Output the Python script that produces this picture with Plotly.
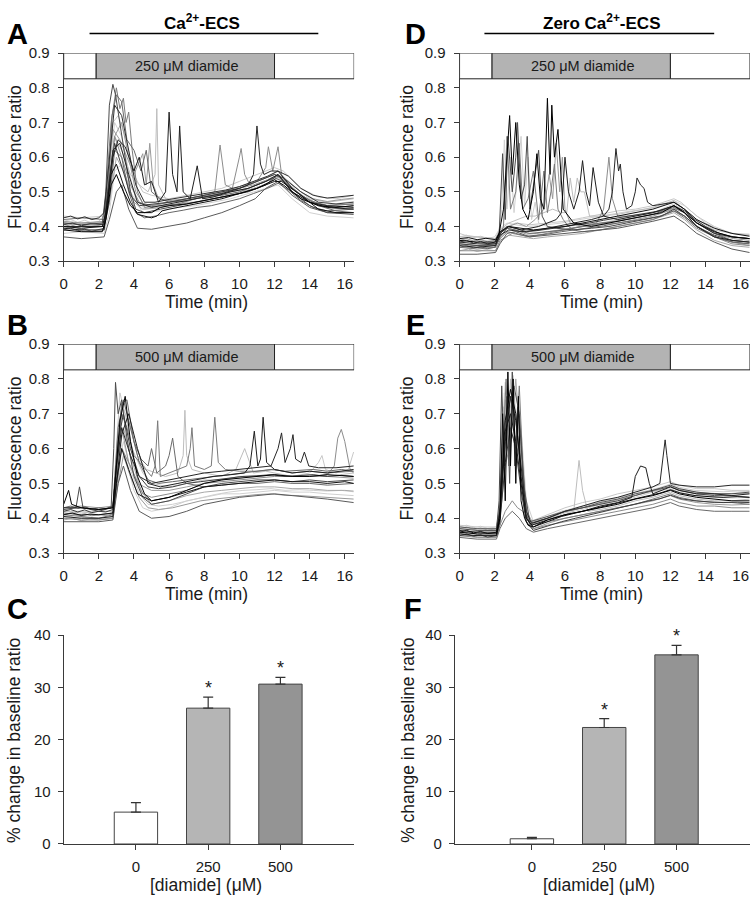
import plotly.graph_objects as go

W, H = 750, 904
FONT = "Liberation Sans, Arial, sans-serif"

# ---------------- Data: traces (time in min, fluorescence ratio) ----------------
# Panel A: Ca2+-ECS, 250 uM diamide
A_grid = [0, 0.4, 0.8, 1.2, 1.6, 2.0, 2.3, 2.6, 2.9, 3.3, 3.7, 4.1, 4.6, 5.2, 6.0, 6.8, 7.6, 8.4, 9.2, 10.0, 10.8, 11.6, 12.2, 12.8, 13.5, 14.2, 15.0, 15.8, 16.5]
A_t = [
    [0, 1, 2.2, 2.4, 2.7, 3.0, 3.4, 3.8, 4.2, 5.0, 5.5, 6.0, 7.0, 8.0, 9.0, 10.0, 11.0, 12.0, 12.5, 13.5, 14.5, 15.5, 16.5],
    [0, 1, 2.2, 2.4, 2.6, 2.8, 2.95, 3.2, 3.5, 3.8, 4.1, 4.6, 5.5, 6.5, 7.5, 8.5, 9.5, 10.5, 11.5, 12.2, 13, 14, 15, 16.5],
    [0, 1, 2.3, 2.5, 2.7, 3.0, 3.2, 3.4, 3.55, 3.7, 3.9, 4.2, 4.6, 5.5, 6.5, 7.5, 8.5, 9.5, 10.5, 11.5, 12.2, 13, 14, 15, 16.5],
    [0, 1, 2.3, 2.5, 2.9, 3.3, 3.8, 4.3, 4.8, 5.2, 5.3, 5.4, 5.8, 6.5, 7.5, 8.5, 9.5, 10.5, 11.5, 12.2, 13, 14, 15, 16.5],
    [0, 1, 2.3, 2.5, 2.8, 3.1, 3.5, 4.0, 4.3, 4.6, 5.0, 5.4, 5.8, 6.0, 6.2, 6.45, 6.6, 6.8, 7.2, 7.6, 7.9, 8.5, 9.5, 10.5, 11.5, 12.2, 13, 14, 15, 16.5],
    [0, 1, 2.3, 2.5, 2.8, 3.2, 3.7, 4.2, 5, 6, 7, 8, 9, 10, 10.5, 10.8, 11.0, 11.2, 11.4, 11.8, 12.2, 13, 14, 15, 16.5],
    [0, 1, 2.3, 2.5, 2.9, 3.3, 3.8, 4.3, 5, 6, 7, 8, 8.6, 8.9, 9.2, 9.6, 10.0, 10.1, 10.3, 10.6, 11.0, 11.5, 11.65, 11.9, 12.2, 12.4, 13, 14, 15, 16.5],
    [0, 1, 2.3, 2.6, 3.0, 3.3, 3.7, 4.2, 5.0, 6.0, 7.0, 8.0, 9.0, 10.0, 10.9, 11.5, 12.2, 13, 14, 15, 16.5],
    [0, 1, 2.3, 2.5, 2.8, 3.1, 3.5, 4.0, 4.5, 5, 6, 7, 8, 9, 10, 11, 12, 12.5, 13.5, 14.5, 15.5, 16.5],
    [0, 1, 2.3, 2.5, 2.75, 3.0, 3.3, 3.6, 4.0, 4.4, 4.7, 5.0, 5.5, 6, 7, 8, 9, 10, 11, 12, 12.5, 13.5, 14.5, 15.5, 16.5],
    [0, 1, 2.3, 2.6, 2.9, 3.3, 3.8, 4.5, 5.5, 6.5, 7.5, 8.5, 9.5, 10.5, 11.5, 12.2, 13, 14, 15, 16.5],
    [0, 1, 2.3, 2.5, 2.8, 3.2, 3.6, 4.0, 4.5, 4.7, 4.9, 5.1, 5.4, 6, 7, 8, 9, 10, 11, 12, 12.6, 13.5, 14.5, 15.5, 16.5],
    [0, 1, 2.2, 2.4, 2.7, 3.0, 3.4, 3.8, 4.2, 4.6, 5.0, 5.3, 5.6, 6, 7, 8, 9, 10, 11, 12, 12.4, 13.5, 14.5, 15.5, 16.5],
    [0, 0.5, 1, 1.5, 2.3, 2.6, 3.0, 3.5, 4.0, 4.5, 5.5, 6.5, 7.5, 8.5, 9.5, 10.5, 11.5, 12.3, 13, 14, 15, 16, 16.5],
    [0, 0.5, 1, 1.5, 2.3, 2.5, 2.9, 3.3, 3.8, 4.3, 5, 6, 7, 8, 9, 10, 11, 12, 12.5, 13.5, 14.5, 15.5, 16.5],
    A_grid, A_grid, A_grid, A_grid,
]
A_v = [
    [0.39, 0.385, 0.385, 0.42, 0.52, 0.55, 0.50, 0.46, 0.44, 0.44, 0.455, 0.46, 0.465, 0.475, 0.485, 0.495, 0.51, 0.535, 0.52, 0.48, 0.46, 0.455, 0.46],
    [0.41, 0.405, 0.41, 0.50, 0.75, 0.81, 0.78, 0.70, 0.60, 0.50, 0.45, 0.44, 0.45, 0.46, 0.47, 0.48, 0.49, 0.50, 0.52, 0.55, 0.50, 0.46, 0.44, 0.435],
    [0.42, 0.425, 0.42, 0.55, 0.70, 0.80, 0.74, 0.77, 0.70, 0.73, 0.62, 0.50, 0.455, 0.46, 0.465, 0.48, 0.49, 0.50, 0.51, 0.53, 0.545, 0.51, 0.475, 0.46, 0.465],
    [0.40, 0.40, 0.405, 0.50, 0.66, 0.62, 0.55, 0.52, 0.50, 0.55, 0.74, 0.52, 0.48, 0.47, 0.48, 0.49, 0.50, 0.52, 0.54, 0.56, 0.52, 0.48, 0.47, 0.48],
    [0.395, 0.39, 0.39, 0.46, 0.60, 0.65, 0.63, 0.56, 0.60, 0.52, 0.53, 0.47, 0.50, 0.73, 0.55, 0.50, 0.69, 0.50, 0.48, 0.575, 0.48, 0.485, 0.50, 0.51, 0.53, 0.55, 0.50, 0.47, 0.455, 0.45],
    [0.40, 0.40, 0.40, 0.48, 0.62, 0.64, 0.55, 0.47, 0.455, 0.465, 0.475, 0.485, 0.495, 0.51, 0.52, 0.55, 0.69, 0.58, 0.55, 0.56, 0.56, 0.51, 0.47, 0.46, 0.455],
    [0.41, 0.41, 0.41, 0.50, 0.66, 0.60, 0.52, 0.47, 0.46, 0.47, 0.48, 0.49, 0.50, 0.635, 0.52, 0.51, 0.60, 0.625, 0.55, 0.52, 0.53, 0.57, 0.63, 0.56, 0.63, 0.55, 0.50, 0.47, 0.46, 0.465],
    [0.37, 0.365, 0.37, 0.42, 0.50, 0.52, 0.45, 0.395, 0.392, 0.40, 0.41, 0.425, 0.44, 0.46, 0.48, 0.51, 0.53, 0.49, 0.455, 0.44, 0.44],
    [0.43, 0.425, 0.43, 0.52, 0.70, 0.72, 0.66, 0.55, 0.50, 0.49, 0.48, 0.49, 0.50, 0.51, 0.53, 0.55, 0.57, 0.56, 0.51, 0.485, 0.48, 0.49],
    [0.40, 0.40, 0.40, 0.47, 0.72, 0.78, 0.76, 0.65, 0.62, 0.56, 0.62, 0.50, 0.48, 0.47, 0.475, 0.485, 0.49, 0.50, 0.52, 0.54, 0.53, 0.49, 0.46, 0.445, 0.44],
    [0.38, 0.385, 0.38, 0.44, 0.56, 0.58, 0.50, 0.44, 0.445, 0.455, 0.46, 0.47, 0.48, 0.495, 0.51, 0.52, 0.48, 0.44, 0.43, 0.425],
    [0.415, 0.41, 0.415, 0.52, 0.68, 0.65, 0.60, 0.55, 0.61, 0.52, 0.64, 0.52, 0.48, 0.475, 0.48, 0.49, 0.50, 0.515, 0.53, 0.55, 0.53, 0.49, 0.465, 0.455, 0.46],
    [0.40, 0.395, 0.40, 0.44, 0.55, 0.58, 0.52, 0.47, 0.435, 0.43, 0.425, 0.43, 0.445, 0.45, 0.46, 0.47, 0.48, 0.495, 0.51, 0.53, 0.53, 0.49, 0.45, 0.44, 0.44],
    [0.395, 0.40, 0.392, 0.398, 0.40, 0.47, 0.60, 0.55, 0.47, 0.45, 0.455, 0.465, 0.47, 0.48, 0.49, 0.505, 0.52, 0.545, 0.515, 0.47, 0.455, 0.45, 0.452],
    [0.405, 0.41, 0.402, 0.408, 0.405, 0.50, 0.64, 0.57, 0.49, 0.46, 0.465, 0.47, 0.48, 0.49, 0.50, 0.51, 0.53, 0.55, 0.54, 0.50, 0.47, 0.465, 0.47],
    [0.415, 0.42, 0.412, 0.418, 0.41, 0.415, 0.43, 0.56, 0.70, 0.66, 0.56, 0.48, 0.45, 0.452, 0.46, 0.468, 0.472, 0.48, 0.488, 0.50, 0.51, 0.525, 0.54, 0.52, 0.49, 0.47, 0.462, 0.468, 0.472],
    [0.39, 0.395, 0.388, 0.392, 0.386, 0.39, 0.395, 0.47, 0.62, 0.60, 0.50, 0.44, 0.425, 0.43, 0.44, 0.447, 0.455, 0.46, 0.47, 0.48, 0.495, 0.51, 0.525, 0.505, 0.475, 0.455, 0.445, 0.448, 0.45],
    [0.40, 0.405, 0.398, 0.402, 0.40, 0.403, 0.41, 0.50, 0.66, 0.70, 0.60, 0.50, 0.46, 0.462, 0.47, 0.478, 0.485, 0.49, 0.50, 0.51, 0.52, 0.535, 0.55, 0.53, 0.50, 0.48, 0.472, 0.478, 0.482],
    [0.425, 0.43, 0.422, 0.428, 0.42, 0.425, 0.44, 0.60, 0.75, 0.72, 0.62, 0.52, 0.47, 0.47, 0.478, 0.485, 0.49, 0.497, 0.505, 0.515, 0.53, 0.545, 0.56, 0.545, 0.51, 0.49, 0.482, 0.486, 0.49],
]

# Panel B: Ca2+-ECS, 500 uM diamide
B_grid = [0, 0.4, 0.8, 1.2, 1.6, 2.0, 2.4, 2.8, 3.1, 3.4, 3.8, 4.3, 4.8, 5.4, 6.2, 7.0, 7.8, 8.6, 9.4, 10.2, 11.0, 11.8, 12.6, 13.4, 14.2, 15.0, 15.8, 16.5]
B_t = [
    [0, 0.15, 0.28, 0.45, 1, 2, 2.8, 3.0, 3.2, 3.5, 3.8, 4.2, 4.6, 5, 6, 7, 8, 9, 10, 11, 12, 13, 14, 15, 16.5],
    [0, 0.7, 0.9, 1.1, 2, 2.7, 2.85, 2.95, 3.1, 3.3, 3.6, 4.0, 4.5, 5, 6, 7, 8, 9, 10, 11, 12, 13, 14, 15, 16.5],
    [0, 1, 2, 2.8, 3.0, 3.3, 3.6, 4.0, 4.5, 5.0, 5.2, 5.35, 5.5, 6, 6.5, 7.0, 7.2, 7.3, 7.45, 8, 8.4, 8.6, 8.8, 9.2, 10, 11, 12, 13, 14, 15, 16.5],
    [0, 1, 2, 2.8, 3.0, 3.3, 3.7, 4.2, 4.7, 5.2, 5.8, 6.5, 6.8, 6.9, 7.0, 7.3, 8, 9, 9.8, 10.3, 10.8, 11.5, 12, 13, 14, 15, 16.5],
    [0, 1, 2, 2.8, 3.0, 3.3, 3.7, 4.2, 4.8, 5.5, 6.5, 7.5, 8.5, 9.5, 10.3, 10.6, 10.85, 11.05, 11.2, 11.35, 11.55, 12, 13, 14, 15, 16.5],
    [0, 1, 2, 2.8, 3.0, 3.3, 3.8, 4.3, 5, 6, 7, 8, 9, 10, 11, 11.8, 12.2, 12.4, 12.6, 12.9, 13.05, 13.2, 13.5, 13.7, 13.95, 14.5, 15.5, 16.5],
    [0, 1, 2, 2.8, 3.0, 3.3, 3.8, 4.5, 5, 6, 7, 8, 9, 10, 11, 12, 13, 14, 15, 15.4, 15.6, 15.8, 16.0, 16.3, 16.5],
    [0, 1, 2, 2.8, 3.1, 3.4, 3.8, 4.3, 5, 6, 7, 8, 9, 10, 11, 12, 13, 14, 15, 16.5],
    [0, 1, 2, 2.8, 3.0, 3.2, 3.5, 3.9, 4.5, 5, 6, 7, 8, 9, 10, 11, 12, 13, 14, 14.5, 14.7, 14.9, 15.5, 16.2, 16.5],
    [0, 1, 2, 2.8, 3.0, 3.3, 3.6, 4.0, 4.4, 4.8, 5.0, 5.3, 5.8, 6.0, 6.2, 6.5, 7, 8, 9, 10, 11, 12, 13, 14, 15, 16.5],
    [0, 1, 2, 2.8, 3.0, 3.2, 3.5, 4.0, 4.5, 5, 6, 7, 8, 9, 10, 11, 12, 13, 14, 15, 16.5],
    [0, 1, 2, 2.8, 3.0, 3.3, 3.7, 4.2, 5, 6, 7, 8, 9, 10, 11, 12, 13, 14, 15, 16.5],
    [0, 0.5, 1, 1.5, 2, 2.8, 3.0, 3.3, 3.7, 4.2, 5, 6, 7, 8, 9, 10, 11, 12, 13, 14, 15, 16, 16.5],
    [0, 0.5, 1, 1.5, 2, 2.8, 3.05, 3.4, 3.8, 4.4, 5, 6, 7, 8, 9, 10, 11, 12, 13, 14, 15, 16, 16.5],
    B_grid, B_grid, B_grid, B_grid,
]
B_v = [
    [0.44, 0.46, 0.48, 0.44, 0.43, 0.425, 0.43, 0.55, 0.68, 0.75, 0.62, 0.52, 0.47, 0.45, 0.46, 0.48, 0.50, 0.51, 0.515, 0.52, 0.525, 0.52, 0.52, 0.525, 0.52],
    [0.425, 0.43, 0.49, 0.43, 0.42, 0.43, 0.60, 0.79, 0.70, 0.74, 0.63, 0.52, 0.46, 0.44, 0.45, 0.47, 0.49, 0.50, 0.505, 0.51, 0.51, 0.505, 0.51, 0.505, 0.51],
    [0.41, 0.405, 0.40, 0.41, 0.52, 0.70, 0.66, 0.58, 0.55, 0.52, 0.55, 0.68, 0.52, 0.53, 0.54, 0.55, 0.60, 0.66, 0.55, 0.54, 0.55, 0.69, 0.56, 0.54, 0.535, 0.535, 0.54, 0.53, 0.535, 0.53, 0.535],
    [0.42, 0.415, 0.42, 0.42, 0.55, 0.72, 0.68, 0.58, 0.54, 0.53, 0.52, 0.53, 0.58, 0.71, 0.58, 0.54, 0.53, 0.52, 0.54, 0.60, 0.53, 0.535, 0.53, 0.52, 0.525, 0.52, 0.53],
    [0.405, 0.40, 0.40, 0.405, 0.50, 0.64, 0.70, 0.60, 0.50, 0.49, 0.50, 0.51, 0.52, 0.525, 0.53, 0.55, 0.65, 0.55, 0.57, 0.69, 0.56, 0.54, 0.53, 0.535, 0.53, 0.54],
    [0.43, 0.43, 0.425, 0.43, 0.55, 0.66, 0.58, 0.52, 0.50, 0.51, 0.52, 0.53, 0.535, 0.54, 0.545, 0.55, 0.60, 0.645, 0.56, 0.60, 0.64, 0.57, 0.56, 0.59, 0.55, 0.545, 0.545, 0.55],
    [0.40, 0.395, 0.395, 0.40, 0.48, 0.60, 0.55, 0.47, 0.46, 0.47, 0.48, 0.50, 0.505, 0.51, 0.515, 0.52, 0.52, 0.52, 0.525, 0.55, 0.63, 0.655, 0.62, 0.54, 0.53],
    [0.39, 0.39, 0.39, 0.395, 0.50, 0.55, 0.48, 0.42, 0.40, 0.405, 0.42, 0.44, 0.45, 0.46, 0.465, 0.47, 0.465, 0.46, 0.455, 0.445],
    [0.42, 0.42, 0.42, 0.42, 0.60, 0.76, 0.70, 0.60, 0.53, 0.50, 0.49, 0.50, 0.51, 0.51, 0.515, 0.52, 0.525, 0.52, 0.53, 0.56, 0.58, 0.54, 0.53, 0.54, 0.59],
    [0.415, 0.41, 0.41, 0.415, 0.53, 0.73, 0.74, 0.62, 0.57, 0.55, 0.60, 0.53, 0.55, 0.58, 0.63, 0.52, 0.50, 0.49, 0.495, 0.50, 0.50, 0.505, 0.50, 0.50, 0.495, 0.50],
    [0.40, 0.40, 0.40, 0.40, 0.50, 0.62, 0.58, 0.48, 0.43, 0.42, 0.43, 0.45, 0.46, 0.47, 0.47, 0.475, 0.48, 0.475, 0.475, 0.47, 0.465],
    [0.43, 0.435, 0.43, 0.435, 0.55, 0.66, 0.56, 0.50, 0.48, 0.48, 0.49, 0.50, 0.51, 0.52, 0.52, 0.525, 0.52, 0.52, 0.52, 0.515],
    [0.41, 0.415, 0.408, 0.412, 0.41, 0.415, 0.50, 0.60, 0.54, 0.47, 0.45, 0.46, 0.475, 0.49, 0.495, 0.50, 0.505, 0.51, 0.505, 0.505, 0.50, 0.505, 0.50],
    [0.395, 0.40, 0.393, 0.398, 0.395, 0.40, 0.56, 0.66, 0.58, 0.48, 0.44, 0.45, 0.465, 0.475, 0.48, 0.485, 0.49, 0.49, 0.485, 0.485, 0.48, 0.48, 0.478],
    [0.42, 0.425, 0.418, 0.424, 0.416, 0.42, 0.418, 0.425, 0.62, 0.70, 0.60, 0.52, 0.49, 0.485, 0.49, 0.50, 0.505, 0.51, 0.515, 0.52, 0.522, 0.525, 0.52, 0.522, 0.525, 0.52, 0.523, 0.52],
    [0.40, 0.405, 0.398, 0.403, 0.397, 0.40, 0.398, 0.405, 0.55, 0.62, 0.54, 0.47, 0.44, 0.435, 0.44, 0.45, 0.46, 0.468, 0.475, 0.48, 0.482, 0.485, 0.48, 0.482, 0.48, 0.478, 0.48, 0.476],
    [0.43, 0.435, 0.428, 0.433, 0.426, 0.43, 0.428, 0.435, 0.66, 0.74, 0.66, 0.56, 0.51, 0.50, 0.505, 0.51, 0.515, 0.52, 0.525, 0.53, 0.535, 0.54, 0.535, 0.538, 0.54, 0.535, 0.54, 0.535],
    [0.41, 0.415, 0.408, 0.413, 0.407, 0.41, 0.408, 0.412, 0.50, 0.58, 0.52, 0.46, 0.43, 0.425, 0.43, 0.44, 0.45, 0.455, 0.46, 0.465, 0.468, 0.47, 0.466, 0.465, 0.462, 0.46, 0.458, 0.455],
]

# Panel D: zero Ca2+-ECS, 250 uM diamide
D_grid = [0, 0.4, 0.8, 1.2, 1.6, 2.0, 2.3, 2.7, 3.2, 3.8, 4.4, 5.0, 5.8, 6.6, 7.4, 8.2, 9.0, 9.8, 10.6, 11.4, 12.2, 12.8, 13.4, 14.0, 14.8, 15.6, 16.5]
D_t = [
    [0, 1, 2.05, 2.25, 2.5, 2.7, 2.85, 3.0, 3.2, 3.4, 3.6, 3.9, 4.2, 4.4, 4.6, 4.8, 5.0, 5.15, 5.25, 5.4, 5.6, 5.9, 6.5, 7.5, 8.5, 9.5, 10.5, 11.5, 12.2, 12.8, 13.5, 14.5, 15.5, 16.5],
    [0, 1, 2.05, 2.25, 2.45, 2.6, 2.75, 3.0, 3.2, 3.3, 3.5, 3.7, 3.85, 4.0, 4.3, 4.5, 4.7, 5.0, 5.5, 6.5, 7.5, 8.5, 9.5, 10.5, 11.5, 12.2, 12.8, 13.5, 14.5, 15.5, 16.5],
    [0, 1, 2.05, 2.25, 2.5, 2.7, 2.9, 3.2, 3.4, 3.6, 3.9, 4.2, 4.5, 4.8, 5.0, 5.2, 5.4, 5.6, 5.9, 6.2, 6.5, 7, 8, 9, 10, 11, 12.2, 12.8, 13.5, 14.5, 15.5, 16.5],
    [0, 1, 2.05, 2.3, 2.8, 3.3, 3.8, 4.3, 4.8, 5.3, 5.8, 6.1, 6.3, 6.5, 6.7, 6.9, 7.1, 7.4, 8, 9, 10, 11, 12.2, 12.8, 13.5, 14.5, 15.5, 16.5],
    [0, 1, 2.05, 2.3, 2.8, 3.5, 4.5, 5.5, 5.8, 6.0, 6.2, 6.5, 6.8, 7.0, 7.2, 7.4, 7.6, 7.9, 8.2, 9, 10, 11, 12.2, 12.8, 13.5, 14.5, 15.5, 16.5],
    [0, 1, 2.05, 2.3, 2.8, 3.5, 4.5, 5.5, 6.5, 7.5, 8.2, 8.5, 8.7, 8.9, 9.05, 9.15, 9.3, 9.5, 9.8, 10.0, 10.1, 10.3, 10.5, 10.7, 11, 12.2, 12.8, 13.5, 14.5, 15.5, 16.5],
    [0, 1, 2.05, 2.3, 3, 4, 5, 6, 7, 7.8, 8.2, 8.5, 8.7, 9.0, 9.5, 10.5, 11.5, 12.2, 12.8, 13.5, 14.5, 15.5, 16.5],
    [0, 1, 2.05, 2.3, 2.7, 3.2, 4, 5, 6, 7, 8, 9, 10, 11, 12.2, 12.8, 13.5, 14.5, 15.5, 16.5],
    [0, 0.3, 1, 2.05, 2.3, 2.7, 3.2, 4, 5, 6, 7, 8, 9, 10, 11, 12.2, 12.6, 13.5, 14.5, 15.5, 16.5],
    [0, 1, 2.05, 2.3, 2.7, 3.2, 4, 5, 6, 7, 8, 9, 10, 11, 12.2, 12.8, 13.5, 14.5, 15.5, 16.5],
    [0, 1, 2.05, 2.25, 2.4, 2.55, 2.7, 2.9, 3.1, 3.3, 3.5, 3.7, 3.9, 4.1, 4.3, 4.5, 5, 6, 7, 8, 9, 10, 11, 12.2, 12.8, 13.5, 14.5, 15.5, 16.5],
    [0, 1, 2.05, 2.3, 2.8, 3.3, 3.8, 4.3, 4.8, 5.1, 5.3, 5.5, 5.7, 5.85, 6.0, 6.3, 7, 8, 9, 10, 11, 12.2, 12.8, 13.5, 14.5, 15.5, 16.5],
    [0, 0.5, 1, 1.5, 2.05, 2.3, 2.8, 3.5, 4.2, 5, 6, 7, 8, 9, 10, 11, 12.2, 12.8, 13.5, 14.5, 15.5, 16.5],
    [0, 0.5, 1, 1.5, 2.05, 2.3, 2.8, 3.5, 4.2, 5, 6, 7, 8, 9, 10, 11, 12.2, 12.8, 13.5, 14.5, 15.5, 16.5],
    D_grid, D_grid, D_grid, D_grid,
]
D_v = [
    [0.36, 0.355, 0.355, 0.38, 0.45, 0.62, 0.72, 0.55, 0.70, 0.52, 0.45, 0.42, 0.50, 0.61, 0.48, 0.45, 0.77, 0.55, 0.75, 0.60, 0.68, 0.45, 0.41, 0.40, 0.41, 0.42, 0.43, 0.44, 0.46, 0.44, 0.41, 0.385, 0.37, 0.365],
    [0.35, 0.345, 0.35, 0.37, 0.61, 0.42, 0.66, 0.50, 0.60, 0.70, 0.48, 0.52, 0.66, 0.45, 0.55, 0.62, 0.43, 0.40, 0.395, 0.39, 0.395, 0.40, 0.41, 0.42, 0.43, 0.45, 0.43, 0.40, 0.375, 0.36, 0.355],
    [0.34, 0.335, 0.34, 0.365, 0.40, 0.66, 0.45, 0.50, 0.64, 0.45, 0.48, 0.56, 0.42, 0.56, 0.44, 0.50, 0.58, 0.45, 0.42, 0.40, 0.39, 0.385, 0.39, 0.40, 0.41, 0.42, 0.445, 0.425, 0.395, 0.37, 0.355, 0.35],
    [0.37, 0.37, 0.365, 0.39, 0.41, 0.42, 0.43, 0.43, 0.44, 0.45, 0.44, 0.44, 0.54, 0.47, 0.54, 0.50, 0.50, 0.43, 0.43, 0.435, 0.445, 0.455, 0.475, 0.45, 0.42, 0.39, 0.38, 0.375],
    [0.345, 0.34, 0.345, 0.38, 0.40, 0.39, 0.40, 0.42, 0.44, 0.60, 0.50, 0.45, 0.50, 0.59, 0.50, 0.46, 0.57, 0.47, 0.43, 0.42, 0.43, 0.44, 0.46, 0.44, 0.40, 0.37, 0.36, 0.355],
    [0.355, 0.35, 0.35, 0.375, 0.39, 0.385, 0.39, 0.40, 0.41, 0.42, 0.43, 0.45, 0.50, 0.625, 0.56, 0.58, 0.50, 0.45, 0.46, 0.50, 0.54, 0.52, 0.51, 0.47, 0.46, 0.47, 0.45, 0.41, 0.38, 0.37, 0.365],
    [0.33, 0.33, 0.33, 0.36, 0.38, 0.37, 0.38, 0.39, 0.40, 0.41, 0.45, 0.60, 0.48, 0.43, 0.43, 0.435, 0.445, 0.46, 0.44, 0.40, 0.37, 0.35, 0.345],
    [0.32, 0.32, 0.325, 0.35, 0.38, 0.385, 0.37, 0.375, 0.38, 0.385, 0.39, 0.395, 0.405, 0.415, 0.43, 0.41, 0.38, 0.355, 0.335, 0.325],
    [0.38, 0.375, 0.37, 0.365, 0.39, 0.40, 0.41, 0.405, 0.41, 0.415, 0.425, 0.435, 0.445, 0.45, 0.46, 0.48, 0.47, 0.43, 0.40, 0.38, 0.375],
    [0.35, 0.345, 0.345, 0.37, 0.395, 0.39, 0.38, 0.385, 0.39, 0.40, 0.41, 0.415, 0.425, 0.435, 0.455, 0.44, 0.41, 0.38, 0.36, 0.355],
    [0.36, 0.36, 0.36, 0.39, 0.45, 0.65, 0.45, 0.60, 0.44, 0.55, 0.66, 0.46, 0.60, 0.42, 0.47, 0.41, 0.40, 0.40, 0.405, 0.41, 0.42, 0.43, 0.44, 0.465, 0.445, 0.415, 0.385, 0.37, 0.365],
    [0.34, 0.34, 0.34, 0.37, 0.40, 0.41, 0.40, 0.42, 0.45, 0.55, 0.48, 0.64, 0.50, 0.60, 0.45, 0.41, 0.40, 0.405, 0.41, 0.42, 0.43, 0.45, 0.43, 0.40, 0.37, 0.355, 0.345],
    [0.365, 0.368, 0.362, 0.366, 0.362, 0.385, 0.40, 0.395, 0.39, 0.395, 0.40, 0.41, 0.42, 0.43, 0.44, 0.45, 0.47, 0.45, 0.42, 0.395, 0.38, 0.372],
    [0.33, 0.335, 0.328, 0.333, 0.33, 0.355, 0.375, 0.37, 0.365, 0.37, 0.375, 0.38, 0.39, 0.40, 0.41, 0.42, 0.44, 0.42, 0.39, 0.36, 0.345, 0.34],
    [0.355, 0.36, 0.352, 0.357, 0.35, 0.355, 0.38, 0.40, 0.395, 0.385, 0.388, 0.392, 0.398, 0.405, 0.41, 0.418, 0.425, 0.43, 0.437, 0.445, 0.46, 0.445, 0.42, 0.40, 0.38, 0.37, 0.365],
    [0.37, 0.375, 0.368, 0.372, 0.366, 0.37, 0.395, 0.41, 0.405, 0.40, 0.402, 0.405, 0.41, 0.418, 0.425, 0.432, 0.44, 0.445, 0.45, 0.458, 0.475, 0.46, 0.435, 0.41, 0.39, 0.38, 0.378],
    [0.34, 0.345, 0.338, 0.342, 0.336, 0.34, 0.365, 0.385, 0.38, 0.372, 0.375, 0.378, 0.385, 0.39, 0.397, 0.402, 0.41, 0.415, 0.422, 0.43, 0.445, 0.43, 0.405, 0.385, 0.365, 0.355, 0.35],
    [0.36, 0.365, 0.358, 0.362, 0.356, 0.36, 0.385, 0.395, 0.39, 0.378, 0.38, 0.385, 0.39, 0.397, 0.402, 0.41, 0.417, 0.423, 0.43, 0.438, 0.452, 0.44, 0.415, 0.395, 0.375, 0.365, 0.36],
]

# Panel E: zero Ca2+-ECS, 500 uM diamide
E_grid = [0, 0.4, 0.8, 1.2, 1.6, 2.1, 2.3, 2.6, 2.9, 3.2, 3.5, 3.8, 4.2, 5.0, 5.8, 6.6, 7.4, 8.2, 9.0, 9.8, 10.6, 11.4, 12.0, 12.6, 13.4, 14.2, 15.0, 15.8, 16.5]
E_t = [
    [0, 1, 2.1, 2.3, 2.45, 2.6, 2.75, 2.9, 3.05, 3.2, 3.35, 3.5, 3.7, 3.9, 4.2, 5, 6, 7, 8, 9, 10, 11, 12, 12.5, 13.5, 14.5, 15.5, 16.5],
    [0, 1, 2.1, 2.25, 2.4, 2.55, 2.7, 2.85, 3.0, 3.15, 3.3, 3.5, 3.7, 4.0, 5, 6, 7, 8, 9, 10, 11, 12, 12.5, 13.5, 14.5, 15.5, 16.5],
    [0, 1, 2.1, 2.3, 2.5, 2.65, 2.8, 3.0, 3.2, 3.4, 3.6, 3.8, 4.0, 5, 6, 7, 8, 9, 10, 11, 12, 12.5, 13.5, 14.5, 15.5, 16.5],
    [0, 1, 2.1, 2.3, 2.5, 2.7, 2.9, 3.1, 3.3, 3.6, 4.0, 5, 6, 6.5, 6.8, 7.0, 7.3, 8, 9, 10, 11, 12, 12.5, 13.5, 14.5, 15.5, 16.5],
    [0, 1, 2.1, 2.3, 2.6, 2.9, 3.2, 3.5, 3.8, 4.1, 5, 6, 7, 8, 9, 9.8, 10.0, 10.3, 10.6, 10.8, 11.0, 12, 12.5, 13.5, 14.5, 15.5, 16.5],
    [0, 1, 2.1, 2.3, 2.6, 2.9, 3.2, 3.5, 3.8, 4.1, 5, 6, 7, 8, 9, 10, 11, 11.4, 11.6, 11.7, 11.8, 12, 12.5, 13.5, 14.5, 15.5, 16.5],
    [0, 1, 2.1, 2.3, 2.6, 3.0, 3.3, 3.6, 3.9, 4.2, 5, 6, 7, 8, 9, 10, 11, 12, 12.5, 13.5, 14.5, 15.5, 16.5],
    [0, 1, 2.1, 2.3, 2.5, 2.8, 3.1, 3.4, 3.7, 4.0, 5, 6, 7, 8, 9, 10, 11, 12, 12.5, 13.5, 14.5, 15.5, 16.5],
    [0, 1, 2.1, 2.3, 2.7, 3.0, 3.3, 3.6, 4.0, 5, 6, 7, 8, 9, 10, 11, 12, 12.5, 13.5, 14.5, 15.5, 16.5],
    [0, 1, 2.1, 2.3, 2.6, 3.0, 3.4, 3.8, 4.2, 5, 6, 7, 8, 9, 10, 11, 12, 12.5, 13.5, 14.5, 15.5, 16.5],
    [0, 0.5, 1, 1.5, 2.1, 2.3, 2.55, 2.8, 3.05, 3.3, 3.6, 4.0, 5, 6, 7, 8, 9, 10, 11, 12, 12.5, 13.5, 14.5, 15.5, 16.5],
    [0, 0.5, 1, 1.5, 2.1, 2.3, 2.6, 3.0, 3.4, 3.8, 4.2, 5, 6, 7, 8, 9, 10, 11, 12, 12.5, 13.5, 14.5, 15.5, 16.5],
    E_grid, E_grid, E_grid, E_grid,
]
E_v = [
    [0.36, 0.355, 0.355, 0.40, 0.70, 0.45, 0.82, 0.55, 0.80, 0.50, 0.75, 0.45, 0.40, 0.38, 0.375, 0.395, 0.41, 0.42, 0.43, 0.44, 0.455, 0.465, 0.48, 0.47, 0.46, 0.455, 0.45, 0.45],
    [0.37, 0.365, 0.365, 0.45, 0.78, 0.55, 0.75, 0.50, 0.82, 0.55, 0.72, 0.62, 0.42, 0.385, 0.40, 0.42, 0.43, 0.44, 0.45, 0.465, 0.48, 0.495, 0.485, 0.475, 0.47, 0.47, 0.475],
    [0.35, 0.35, 0.35, 0.38, 0.60, 0.80, 0.55, 0.76, 0.60, 0.78, 0.55, 0.42, 0.38, 0.39, 0.40, 0.41, 0.42, 0.43, 0.44, 0.455, 0.47, 0.46, 0.45, 0.445, 0.445, 0.44],
    [0.36, 0.36, 0.36, 0.42, 0.72, 0.60, 0.80, 0.65, 0.70, 0.48, 0.39, 0.40, 0.41, 0.42, 0.566, 0.48, 0.42, 0.425, 0.435, 0.45, 0.46, 0.475, 0.465, 0.455, 0.45, 0.45, 0.455],
    [0.355, 0.35, 0.35, 0.40, 0.65, 0.70, 0.62, 0.50, 0.40, 0.38, 0.395, 0.41, 0.42, 0.435, 0.445, 0.46, 0.52, 0.55, 0.545, 0.50, 0.47, 0.49, 0.48, 0.47, 0.47, 0.465, 0.47],
    [0.365, 0.36, 0.36, 0.41, 0.62, 0.75, 0.68, 0.55, 0.42, 0.385, 0.40, 0.42, 0.435, 0.45, 0.46, 0.475, 0.49, 0.50, 0.58, 0.625, 0.58, 0.50, 0.495, 0.49, 0.49, 0.495, 0.495],
    [0.35, 0.345, 0.345, 0.38, 0.42, 0.45, 0.43, 0.42, 0.38, 0.37, 0.38, 0.39, 0.40, 0.41, 0.42, 0.43, 0.44, 0.455, 0.445, 0.435, 0.435, 0.43, 0.43],
    [0.375, 0.37, 0.37, 0.43, 0.66, 0.72, 0.78, 0.70, 0.48, 0.39, 0.405, 0.42, 0.43, 0.445, 0.455, 0.47, 0.48, 0.49, 0.48, 0.47, 0.465, 0.465, 0.46],
    [0.38, 0.375, 0.375, 0.43, 0.68, 0.74, 0.66, 0.50, 0.39, 0.41, 0.43, 0.445, 0.455, 0.47, 0.48, 0.49, 0.505, 0.495, 0.485, 0.485, 0.48, 0.48],
    [0.345, 0.34, 0.34, 0.37, 0.40, 0.42, 0.40, 0.37, 0.36, 0.37, 0.38, 0.39, 0.40, 0.41, 0.42, 0.43, 0.445, 0.435, 0.425, 0.42, 0.42, 0.42],
    [0.368, 0.372, 0.366, 0.37, 0.368, 0.44, 0.76, 0.58, 0.81, 0.62, 0.45, 0.38, 0.398, 0.415, 0.425, 0.44, 0.45, 0.46, 0.475, 0.485, 0.475, 0.465, 0.46, 0.458, 0.46],
    [0.355, 0.36, 0.353, 0.357, 0.355, 0.40, 0.55, 0.64, 0.58, 0.40, 0.37, 0.385, 0.40, 0.41, 0.42, 0.43, 0.44, 0.45, 0.465, 0.455, 0.445, 0.44, 0.438, 0.44],
    [0.36, 0.365, 0.358, 0.362, 0.356, 0.36, 0.42, 0.68, 0.77, 0.70, 0.52, 0.40, 0.375, 0.39, 0.405, 0.415, 0.425, 0.435, 0.445, 0.455, 0.463, 0.472, 0.482, 0.472, 0.465, 0.462, 0.46, 0.462, 0.46],
    [0.37, 0.375, 0.368, 0.372, 0.366, 0.37, 0.44, 0.74, 0.62, 0.80, 0.60, 0.42, 0.385, 0.40, 0.415, 0.425, 0.435, 0.445, 0.455, 0.465, 0.473, 0.482, 0.492, 0.482, 0.475, 0.472, 0.47, 0.472, 0.47],
    [0.35, 0.355, 0.348, 0.352, 0.346, 0.35, 0.39, 0.56, 0.66, 0.60, 0.48, 0.39, 0.365, 0.378, 0.39, 0.40, 0.41, 0.42, 0.43, 0.44, 0.448, 0.456, 0.466, 0.456, 0.45, 0.447, 0.445, 0.446, 0.445],
    [0.375, 0.38, 0.373, 0.377, 0.371, 0.375, 0.45, 0.79, 0.72, 0.76, 0.66, 0.45, 0.39, 0.405, 0.42, 0.43, 0.44, 0.45, 0.46, 0.47, 0.478, 0.488, 0.498, 0.488, 0.48, 0.478, 0.476, 0.478, 0.476],
]

# Bar charts: % change in baseline ratio
bar_categories = ["0", "250", "500"]
C_means = [6.1, 26.0, 30.6]
C_errors = [1.8, 2.1, 1.3]
F_means = [1.0, 22.3, 36.2]
F_errors = [0.25, 1.7, 1.8]
significant = [False, True, True]

time_ticks = [0, 2, 4, 6, 8, 10, 12, 14, 16]
ratio_ticks = [0.3, 0.4, 0.5, 0.6, 0.7, 0.8, 0.9]
pct_ticks = [0, 10, 20, 30, 40]

# ---------------- Styles ----------------
GRAYS = ["#000000", "#4a4a4a", "#7a7a7a", "#bdbdbd", "#1e1e1e", "#262626", "#8c8c8c",
         "#5a5a5a", "#c8c8c8", "#6a6a6a", "#d0d0d0", "#9a9a9a", "#111111", "#a8a8a8",
         "#3c3c3c", "#cfcfcf", "#666666", "#999999", "#2e2e2e"]
AXC = "#3a3a3a"
TXT = "#1a1a1a"
BOXGRAY = "#b3b3b3"
BAR_FILLS = ["#ffffff", "#b5b5b5", "#949494"]
TICK_FS = 15
TITLE_FS = 17.5


def px(x):
    """screen x pixel -> paper fraction"""
    return x / W


def py(y):
    """screen y pixel -> paper fraction"""
    return 1 - y / H


fig = go.Figure()

T_MAX = 16.53
panels = {
    "A": ("", (60, 352), (45, 257)),
    "B": ("2", (60, 352), (341.5, 554.5)),
    "D": ("4", (458, 750), (45, 257)),
    "E": ("5", (458, 750), (341.5, 554.5)),
}
trace_data = {"A": (A_t, A_v), "B": (B_t, B_v), "D": (D_t, D_v), "E": (E_t, E_v)}
dose_label = {"A": "250 μM diamide", "B": "500 μM diamide", "D": "250 μM diamide", "E": "500 μM diamide"}

common_axis = dict(ticks="outside", ticklen=5, tickcolor=AXC, showline=True, linecolor=AXC,
                   linewidth=1, showgrid=False, zeroline=False,
                   tickfont=dict(size=TICK_FS, color=TXT, family=FONT))

layout_axes = {}
for key, (suf, (x0, x1), (y0, y1)) in panels.items():
    ts, vs = trace_data[key]
    # draw the light traces first, dark ones on top
    order = sorted(range(len(ts)), key=lambda i: -int(GRAYS[i % len(GRAYS)][1:3], 16))
    for i in order:
        fig.add_trace(go.Scatter(
            x=ts[i], y=vs[i], mode="lines", xaxis="x" + suf, yaxis="y" + suf,
            line=dict(color=GRAYS[i % len(GRAYS)], width=1),
            showlegend=False, hoverinfo="skip"))
    layout_axes["xaxis" + suf] = dict(
        domain=[px(x0), min(1.0, px(x1))], range=[0, T_MAX], anchor="y" + suf,
        tickvals=time_ticks, ticklabelstandoff=4, **common_axis)
    layout_axes["yaxis" + suf] = dict(
        domain=[py(y1), py(y0)], range=[0.3, 0.9], anchor="x" + suf,
        tickvals=ratio_ticks, ticktext=[f"{v:.1f}" for v in ratio_ticks],
        ticklabelstandoff=5, **common_axis)

bar_panels = {"C": ("3", (60, 352), (638, 851), [-1.0, 3.02], C_means, C_errors),
              "F": ("6", (453.3, 750), (638, 851), [-1.065, 3.016], F_means, F_errors)}
for key, (suf, (x0, x1), (y0, y1), xr, means, errs) in bar_panels.items():
    fig.add_trace(go.Bar(
        x=[0, 1, 2], y=means, width=0.6, xaxis="x" + suf, yaxis="y" + suf,
        marker=dict(color=BAR_FILLS, line=dict(color="#444444", width=1)),
        error_y=dict(type="data", symmetric=False, array=errs, arrayminus=[0, 0, 0],
                     color="#333333", thickness=1.2, width=5),
        showlegend=False, hoverinfo="skip"))
    layout_axes["xaxis" + suf] = dict(
        domain=[px(x0), min(1.0, px(x1))], range=xr, anchor="y" + suf,
        tickvals=[0, 1, 2], ticktext=bar_categories, ticklabelstandoff=4, **common_axis)
    layout_axes["yaxis" + suf] = dict(
        domain=[py(y1), py(y0)], range=[0, 40], anchor="x" + suf,
        tickvals=pct_ticks, ticklabelstandoff=4, **common_axis)

shapes = []
annotations = []


def label(x, y, text, size, angle=0, color=TXT):
    annotations.append(dict(xref="paper", yref="paper", x=px(x), y=py(y), text=text,
                            xanchor="center", yanchor="middle", textangle=angle,
                            showarrow=False, font=dict(size=size, color=color, family=FONT)))


# Stimulus boxes
for key, (suf, _, _) in panels.items():
    xr_, yr_ = "x" + suf, "y" + suf
    for (a, b, fill) in [(0, 1.85, "white"), (1.85, 12.0, BOXGRAY), (12.0, T_MAX, "white")]:
        shapes.append(dict(type="rect", xref=xr_, yref=yr_, x0=a, x1=b, y0=0.826, y1=0.9,
                           fillcolor=fill, line=dict(color="#222222", width=1), layer="above"))
    annotations.append(dict(xref=xr_, yref=yr_, x=7.0, y=0.862, text=dose_label[key],
                            xanchor="center", yanchor="middle",
                            showarrow=False, font=dict(size=14.5, color=TXT, family=FONT)))

# Condition headers with lines
shapes.append(dict(type="line", xref="paper", yref="paper", x0=px(86), x1=px(316), y0=py(25), y1=py(25),
                   line=dict(color="black", width=1.5)))
shapes.append(dict(type="line", xref="paper", yref="paper", x0=px(483), x1=px(714), y0=py(25), y1=py(25),
                   line=dict(color="black", width=1.5)))
label(199, 13, "<b>Ca<sup>2+</sup>-ECS</b>", 17, color="black")
label(601, 13, "<b>Zero Ca<sup>2+</sup>-ECS</b>", 17, color="black")

# Panel letters
for letter, (x, y) in {"A": (14, 25), "B": (14, 322), "C": (14, 611),
                       "D": (414, 25), "E": (414, 322), "F": (411, 611)}.items():
    label(x, y, f"<b>{letter}</b>", 29, color="black")

# Axis titles
for (xc, yc) in [(11, 151), (11, 448), (405, 151), (405, 448)]:
    label(xc, yc, "Fluorescence ratio", TITLE_FS, angle=-90)
for (xc, yc) in [(204, 299), (204, 596), (601, 299), (601, 596)]:
    label(xc, yc, "Time (min)", TITLE_FS)
for (xc, yc) in [(10, 745), (406, 745)]:
    label(xc, yc, "% change in baseline ratio", TITLE_FS, angle=-90)
for (xc, yc) in [(203, 893), (598, 893)]:
    label(xc, yc, "[diamide] (μM)", TITLE_FS)

# Significance stars
for key, (suf, _, _, _, means, errs) in bar_panels.items():
    for i, (m, e, s) in enumerate(zip(means, errs, significant)):
        if s:
            annotations.append(dict(xref="x" + suf, yref="y" + suf, x=i, y=m + e, text="*",
                                    xanchor="center", yanchor="bottom", yshift=-3,
                                    showarrow=False, font=dict(size=18, color=TXT, family=FONT)))

fig.update_layout(
    width=W, height=H, autosize=False,
    margin=dict(l=0, r=0, t=0, b=0),
    paper_bgcolor="white", plot_bgcolor="white",
    shapes=shapes, annotations=annotations,
    showlegend=False,
    **layout_axes,
)

# Remove the default page margin so the 750x904 figure fills the window exactly.
fig.write_html("out.html",
               config={"displayModeBar": False, "staticPlot": True},
               post_script="document.body.style.margin='0';document.body.style.overflow='hidden';")
